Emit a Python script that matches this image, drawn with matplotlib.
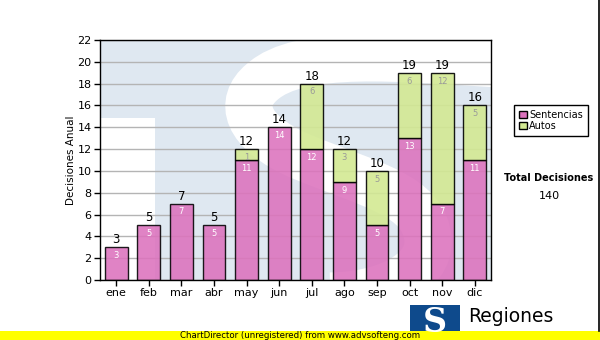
import matplotlib
matplotlib.use("Agg")
import matplotlib.pyplot as plt
import numpy as np
from matplotlib.path import Path
from matplotlib.patches import PathPatch, Rectangle

# data
MESES = ["ene", "feb", "mar", "abr", "may", "jun", "jul", "ago", "sep", "oct", "nov", "dic"]
SENTENCIAS = [3, 5, 7, 5, 11, 14, 12, 9, 5, 13, 7, 11]
AUTOS = [0, 0, 0, 0, 1, 0, 6, 3, 5, 6, 12, 5]
YTICKS = list(range(0, 23, 2))
TOTAL = 140

PINK = "#dc72bd"
GREEN = "#d3e993"
BLUE_WM = "#dfe8f1"

W, H = 600, 340
fig = plt.figure(figsize=(W / 100, H / 100), dpi=100)
L, R, T, B = 100, 491, 40, 280
rect = [L / W, 1 - B / H, (R - L) / W, (B - T) / H]

# -- watermark (pixel coords) -------------------------------------------
bg = fig.add_axes(rect, zorder=0)
bg.set_xlim(L, R); bg.set_ylim(B, T); bg.axis("off")
bg.add_patch(Rectangle((L, T), R - L, B - T, color=BLUE_WM, lw=0))
bg.add_patch(Rectangle((L, 118), 55, B - 118, color="white", lw=0))
verts = [(500, 64),
         (400, 58), (300, 48), (262, 82),
         (238, 102), (245, 132), (300, 156),
         (370, 185), (425, 195), (428, 240),
         (430, 275), (380, 296), (330, 296)]
codes = [Path.MOVETO] + [Path.CURVE4] * 12
bg.add_patch(PathPatch(Path(verts, codes), fill=False, ec="white",
                       lw=34, capstyle="butt"))

# -- bars -----------------------------------------------------------------
ax = fig.add_axes(rect, zorder=1)
ax.patch.set_alpha(0)
x = np.arange(len(MESES))
s = np.array(SENTENCIAS); a = np.array(AUTOS)
ax.bar(x, s, 0.7, color=PINK, alpha=0.88, edgecolor="black", lw=1, zorder=2)
ax.bar(x[a > 0], a[a > 0], 0.7, bottom=s[a > 0], color=GREEN, alpha=0.9,
       edgecolor="black", lw=1, zorder=2)
for i in x:
    ax.text(i, s[i] - 0.35, str(s[i]), ha="center", va="top", color="white",
            fontsize=6, zorder=3)
    if a[i] > 0:
        ax.text(i, s[i] + a[i] - 0.35, str(a[i]), ha="center", va="top",
                color="#999999", fontsize=6, zorder=3)
    ax.text(i, s[i] + a[i] + 0.1, str(s[i] + a[i]), ha="center", va="bottom",
            fontsize=8.5, zorder=3)

ax.set_xlim(-0.5, len(MESES) - 0.5)
ax.set_ylim(0, 22)
ax.set_yticks(YTICKS)
ax.set_xticks(x); ax.set_xticklabels(MESES)
ax.tick_params(labelsize=8, length=4, width=1, pad=2)
ax.yaxis.grid(True, color="#b4b4b4", lw=1, zorder=0)
ax.set_axisbelow(True)
for sp in ax.spines.values():
    sp.set_linewidth(1)
ax.set_ylabel("Decisiones Anual", fontsize=7.5, labelpad=1)

# -- legend + total -------------------------------------------------------
leg = ax.legend([Rectangle((0, 0), 1, 1, fc=PINK, ec="black"),
                 Rectangle((0, 0), 1, 1, fc=GREEN, ec="black")],
                ["Sentencias", "Autos"], loc="upper left",
                bbox_to_anchor=(509 / W, 1 - 100 / H), bbox_transform=fig.transFigure,
                fontsize=7, fancybox=False, framealpha=1, edgecolor="black",
                handlelength=0.8, handleheight=0.8, handletextpad=0.3,
                borderpad=0.5, labelspacing=0.1)
leg.get_frame().set_linewidth(1)
fig.text(549 / W, 1 - 178 / H, "Total Decisiones", ha="center", va="center",
         fontsize=7, fontweight="bold")
fig.text(549 / W, 1 - 196 / H, str(TOTAL), ha="center", va="center", fontsize=8)

# -- footer: logo + unregistered band -------------------------------------
fig.add_artist(Rectangle((410 / W, 1 - 340 / H), 50 / W, 35 / H,
                         transform=fig.transFigure, color="#0e4a8c", lw=0))
fig.text(435 / W, 1 - 322 / H, "S", ha="center", va="center", color="white",
         fontsize=24, fontweight="bold", fontfamily="DejaVu Serif")
fig.text(468 / W, 1 - 316 / H, "Regiones", ha="left", va="center", fontsize=13.5)
fig.add_artist(Rectangle((0, 0), 1, 9 / H, transform=fig.transFigure,
                         color="#ffff00", lw=0))
fig.text(300 / W, 4.5 / H, "ChartDirector (unregistered) from www.advsofteng.com",
         ha="center", va="center", fontsize=6.2)
fig.add_artist(plt.Line2D([598.5 / W, 598.5 / W], [9 / H, 1],
                          transform=fig.transFigure, color="black", lw=1.2))

fig.savefig("out.png", dpi=100)
